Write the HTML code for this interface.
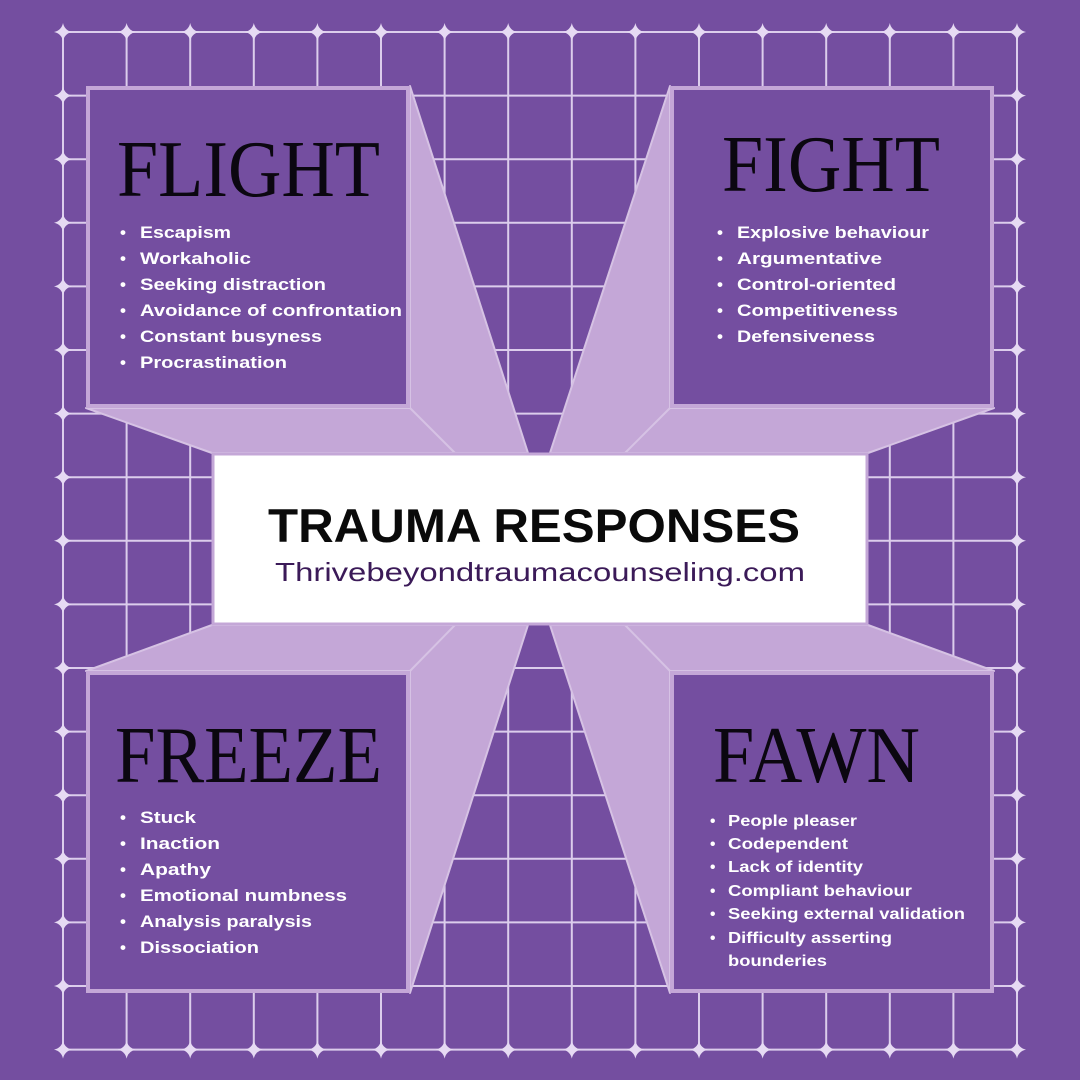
<!DOCTYPE html>
<html><head><meta charset="utf-8"><style>
html,body{margin:0;padding:0;background:#744ea0;}
svg{display:block}
.t{font-family:"Liberation Serif",serif;fill:#0b0710;}
.b{font-family:"Liberation Sans",sans-serif;font-weight:bold;fill:#fff;font-size:17px;}
.s{font-family:"Liberation Sans",sans-serif;font-weight:bold;fill:#fff;font-size:15.5px;}
</style></head><body>
<svg width="1080" height="1080" viewBox="0 0 1080 1080" xmlns="http://www.w3.org/2000/svg" xmlns:xlink="http://www.w3.org/1999/xlink">
<defs>
<path id="st" d="M0 -9Q1.6 -1.6 9 0Q1.6 1.6 0 9Q-1.6 1.6 -9 0Q-1.6 -1.6 0 -9Z" fill="#e6daf3"/>
</defs>
<rect width="1080" height="1080" fill="#744ea0"/>
<path stroke="#dccdec" stroke-width="2" fill="none" d="
M63 32V1049.6M126.6 32V1049.6M190.2 32V1049.6M253.8 32V1049.6M317.4 32V1049.6M381 32V1049.6M444.6 32V1049.6M508.2 32V1049.6M571.8 32V1049.6M635.4 32V1049.6M699 32V1049.6M762.6 32V1049.6M826.2 32V1049.6M889.8 32V1049.6M953.4 32V1049.6M1017 32V1049.6
M63 32H1017M63 95.6H1017M63 159.2H1017M63 222.8H1017M63 286.4H1017M63 350H1017M63 413.6H1017M63 477.2H1017M63 540.8H1017M63 604.4H1017M63 668H1017M63 731.6H1017M63 795.2H1017M63 858.8H1017M63 922.4H1017M63 986H1017M63 1049.6H1017"/>
<g>
<use xlink:href="#st" x="63" y="32"/><use xlink:href="#st" x="126.6" y="32"/><use xlink:href="#st" x="190.2" y="32"/><use xlink:href="#st" x="253.8" y="32"/><use xlink:href="#st" x="317.4" y="32"/><use xlink:href="#st" x="381" y="32"/><use xlink:href="#st" x="444.6" y="32"/><use xlink:href="#st" x="508.2" y="32"/><use xlink:href="#st" x="571.8" y="32"/><use xlink:href="#st" x="635.4" y="32"/><use xlink:href="#st" x="699" y="32"/><use xlink:href="#st" x="762.6" y="32"/><use xlink:href="#st" x="826.2" y="32"/><use xlink:href="#st" x="889.8" y="32"/><use xlink:href="#st" x="953.4" y="32"/><use xlink:href="#st" x="1017" y="32"/>
<use xlink:href="#st" x="63" y="1049.6"/><use xlink:href="#st" x="126.6" y="1049.6"/><use xlink:href="#st" x="190.2" y="1049.6"/><use xlink:href="#st" x="253.8" y="1049.6"/><use xlink:href="#st" x="317.4" y="1049.6"/><use xlink:href="#st" x="381" y="1049.6"/><use xlink:href="#st" x="444.6" y="1049.6"/><use xlink:href="#st" x="508.2" y="1049.6"/><use xlink:href="#st" x="571.8" y="1049.6"/><use xlink:href="#st" x="635.4" y="1049.6"/><use xlink:href="#st" x="699" y="1049.6"/><use xlink:href="#st" x="762.6" y="1049.6"/><use xlink:href="#st" x="826.2" y="1049.6"/><use xlink:href="#st" x="889.8" y="1049.6"/><use xlink:href="#st" x="953.4" y="1049.6"/><use xlink:href="#st" x="1017" y="1049.6"/>
<use xlink:href="#st" x="63" y="95.6"/><use xlink:href="#st" x="63" y="159.2"/><use xlink:href="#st" x="63" y="222.8"/><use xlink:href="#st" x="63" y="286.4"/><use xlink:href="#st" x="63" y="350"/><use xlink:href="#st" x="63" y="413.6"/><use xlink:href="#st" x="63" y="477.2"/><use xlink:href="#st" x="63" y="540.8"/><use xlink:href="#st" x="63" y="604.4"/><use xlink:href="#st" x="63" y="668"/><use xlink:href="#st" x="63" y="731.6"/><use xlink:href="#st" x="63" y="795.2"/><use xlink:href="#st" x="63" y="858.8"/><use xlink:href="#st" x="63" y="922.4"/><use xlink:href="#st" x="63" y="986"/>
<use xlink:href="#st" x="1017" y="95.6"/><use xlink:href="#st" x="1017" y="159.2"/><use xlink:href="#st" x="1017" y="222.8"/><use xlink:href="#st" x="1017" y="286.4"/><use xlink:href="#st" x="1017" y="350"/><use xlink:href="#st" x="1017" y="413.6"/><use xlink:href="#st" x="1017" y="477.2"/><use xlink:href="#st" x="1017" y="540.8"/><use xlink:href="#st" x="1017" y="604.4"/><use xlink:href="#st" x="1017" y="668"/><use xlink:href="#st" x="1017" y="731.6"/><use xlink:href="#st" x="1017" y="795.2"/><use xlink:href="#st" x="1017" y="858.8"/><use xlink:href="#st" x="1017" y="922.4"/><use xlink:href="#st" x="1017" y="986"/>
</g>
<g fill="#c4a7d7" stroke="#d6c2e4" stroke-width="2" stroke-linejoin="round">
<polygon points="410,86 528,453 212,453 86,408 410,408"/>
<polygon points="670,86 550,453 868,453 994,408 670,408"/>
<polygon points="410,993 528,625 212,625 86,671 410,671"/>
<polygon points="670,993 550,625 868,625 994,671 670,671"/>
</g>
<g stroke="#d6c2e4" stroke-width="2">
<line x1="410" y1="408" x2="455" y2="453"/><line x1="670" y1="408" x2="625" y2="453"/>
<line x1="410" y1="671" x2="455" y2="625"/><line x1="670" y1="671" x2="625" y2="625"/>
</g>
<g fill="#744ea0" stroke="#c4a7d7" stroke-width="4">
<rect x="88" y="88" width="320" height="318"/>
<rect x="672" y="88" width="320" height="318"/>
<rect x="88" y="673" width="320" height="318"/>
<rect x="672" y="673" width="320" height="318"/>
</g>
<rect x="213" y="454" width="654" height="170" fill="#fff" stroke="#c4a7d7" stroke-width="3"/>
<text x="534" y="542" text-anchor="middle" font-family="Liberation Sans, sans-serif" font-weight="bold" font-size="47" fill="#0a0a0a" textLength="532" lengthAdjust="spacingAndGlyphs">TRAUMA RESPONSES</text>
<text x="540" y="581" text-anchor="middle" font-family="Liberation Sans, sans-serif" font-size="26" fill="#3b1a58" textLength="530" lengthAdjust="spacingAndGlyphs">Thrivebeyondtraumacounseling.com</text>
<text class="t" x="117" y="196" font-size="80" textLength="263" lengthAdjust="spacingAndGlyphs">FLIGHT</text>
<text class="t" x="722" y="191" font-size="80" textLength="218" lengthAdjust="spacingAndGlyphs">FIGHT</text>
<text class="t" x="115" y="782" font-size="80" textLength="267" lengthAdjust="spacingAndGlyphs">FREEZE</text>
<text class="t" x="713" y="782" font-size="80" textLength="207" lengthAdjust="spacingAndGlyphs">FAWN</text>
<g class="b">
<text x="120" y="238">•</text><text x="140" y="238" textLength="91" lengthAdjust="spacingAndGlyphs">Escapism</text>
<text x="120" y="264">•</text><text x="140" y="264" textLength="111" lengthAdjust="spacingAndGlyphs">Workaholic</text>
<text x="120" y="290">•</text><text x="140" y="290" textLength="186" lengthAdjust="spacingAndGlyphs">Seeking distraction</text>
<text x="120" y="316">•</text><text x="140" y="316" textLength="262" lengthAdjust="spacingAndGlyphs">Avoidance of confrontation</text>
<text x="120" y="342">•</text><text x="140" y="342" textLength="182" lengthAdjust="spacingAndGlyphs">Constant busyness</text>
<text x="120" y="368">•</text><text x="140" y="368" textLength="147" lengthAdjust="spacingAndGlyphs">Procrastination</text>
<text x="717" y="238">•</text><text x="737" y="238" textLength="192" lengthAdjust="spacingAndGlyphs">Explosive behaviour</text>
<text x="717" y="264">•</text><text x="737" y="264" textLength="145" lengthAdjust="spacingAndGlyphs">Argumentative</text>
<text x="717" y="290">•</text><text x="737" y="290" textLength="159" lengthAdjust="spacingAndGlyphs">Control-oriented</text>
<text x="717" y="316">•</text><text x="737" y="316" textLength="161" lengthAdjust="spacingAndGlyphs">Competitiveness</text>
<text x="717" y="342">•</text><text x="737" y="342" textLength="138" lengthAdjust="spacingAndGlyphs">Defensiveness</text>
<text x="120" y="823">•</text><text x="140" y="823" textLength="56" lengthAdjust="spacingAndGlyphs">Stuck</text>
<text x="120" y="849">•</text><text x="140" y="849" textLength="80" lengthAdjust="spacingAndGlyphs">Inaction</text>
<text x="120" y="875">•</text><text x="140" y="875" textLength="71" lengthAdjust="spacingAndGlyphs">Apathy</text>
<text x="120" y="901">•</text><text x="140" y="901" textLength="207" lengthAdjust="spacingAndGlyphs">Emotional numbness</text>
<text x="120" y="927">•</text><text x="140" y="927" textLength="172" lengthAdjust="spacingAndGlyphs">Analysis paralysis</text>
<text x="120" y="953">•</text><text x="140" y="953" textLength="119" lengthAdjust="spacingAndGlyphs">Dissociation</text>
</g>
<g class="s">
<text x="710" y="826">•</text><text x="728" y="826" textLength="129" lengthAdjust="spacingAndGlyphs">People pleaser</text>
<text x="710" y="849">•</text><text x="728" y="849" textLength="120" lengthAdjust="spacingAndGlyphs">Codependent</text>
<text x="710" y="872">•</text><text x="728" y="872" textLength="135" lengthAdjust="spacingAndGlyphs">Lack of identity</text>
<text x="710" y="896">•</text><text x="728" y="896" textLength="184" lengthAdjust="spacingAndGlyphs">Compliant behaviour</text>
<text x="710" y="919">•</text><text x="728" y="919" textLength="237" lengthAdjust="spacingAndGlyphs">Seeking external validation</text>
<text x="710" y="943">•</text><text x="728" y="943" textLength="164" lengthAdjust="spacingAndGlyphs">Difficulty asserting</text>
<text x="728" y="966" textLength="99" lengthAdjust="spacingAndGlyphs">bounderies</text>
</g>
</svg>
</body></html>
